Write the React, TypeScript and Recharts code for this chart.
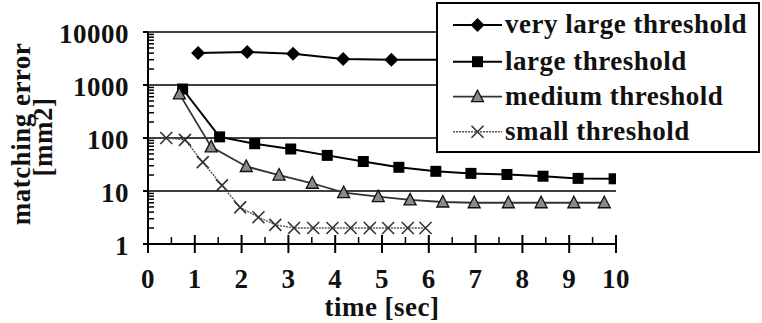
import { Legend, Line, LineChart, ReferenceLine, XAxis, YAxis } from "recharts";

const FONT = "'Liberation Serif', 'Times New Roman', serif";
const FS = 27;

// time [sec] / matching error [mm2]
const veryLargeT = [1.07, 2.12, 3.1, 4.17, 5.2, 6.3, 7.3, 8.35, 9.4];
const veryLargeV = [4000, 4200, 3900, 3100, 3000, 3000, 3000, 3000, 3000];
const largeT = [0.74, 1.53, 2.28, 3.05, 3.83, 4.6, 5.36, 6.15, 6.9, 7.67, 8.44, 9.19, 9.96];
const largeV = [840, 105, 78, 62, 47, 36, 28, 23.5, 21.5, 20.5, 19, 17.3, 17];
const mediumT = [0.67, 1.35, 2.1, 2.8, 3.51, 4.18, 4.92, 5.6, 6.3, 6.97, 7.7, 8.4, 9.1, 9.75];
const mediumV = [680, 68, 29, 20, 14, 9.3, 7.8, 6.8, 6.2, 6, 6, 6, 6, 6];
const smallT = [0.39, 0.79, 1.17, 1.58, 1.97, 2.36, 2.72, 3.12, 3.53, 3.94, 4.33, 4.74, 5.13, 5.55, 5.93];
const smallV = [100, 92, 35, 12.8, 4.9, 3.2, 2.3, 2.0, 2.0, 2.0, 2.0, 2.0, 2.0, 2.0, 2.0];

const xTicks = [0, 0.5, 1, 1.5, 2, 2.5, 3, 3.5, 4, 4.5, 5, 5.5, 6, 6.5, 7, 7.5, 8, 8.5, 9, 9.5, 10];
const yMajor = [1, 10, 100, 1000, 10000];
const yMinorSteps = [2, 3, 4, 5, 6, 7, 8, 9];
const yTicks = [...yMajor, ...[1, 10, 100, 1000].flatMap((d) => yMinorSteps.map((m) => m * d))].sort((a, b) => a - b);
const gridLines = [10, 100, 1000, 10000];

const toPoints = (t: number[], v: number[]) => t.map((x, i) => ({ t: x, v: v[i] }));

type Kind = "diamond" | "square" | "triangle" | "cross";

const series: { name: string; kind: Kind; data: { t: number; v: number }[]; stroke: string; width: number; dash?: string }[] = [
  { name: "very large threshold", kind: "diamond", data: toPoints(veryLargeT, veryLargeV), stroke: "#000", width: 2 },
  { name: "large threshold", kind: "square", data: toPoints(largeT, largeV), stroke: "#000", width: 2 },
  { name: "medium threshold", kind: "triangle", data: toPoints(mediumT, mediumV), stroke: "#333", width: 1.8 },
  { name: "small threshold", kind: "cross", data: toPoints(smallT, smallV), stroke: "#555", width: 1.4, dash: "2 1" },
];

const textProps = { fontFamily: FONT, fontSize: FS, fontWeight: 700, letterSpacing: 0.5, fill: "#111" };

function marker(kind: Kind, cx: number, cy: number, key?: string) {
  if (kind === "diamond")
    return <polygon key={key} points={`${cx},${cy - 7} ${cx + 7},${cy} ${cx},${cy + 7} ${cx - 7},${cy}`} fill="#000" />;
  if (kind === "square") return <rect key={key} x={cx - 5.5} y={cy - 5.5} width={11} height={11} fill="#000" />;
  if (kind === "triangle")
    return <polygon key={key} points={`${cx},${cy - 6.5} ${cx + 6},${cy + 5} ${cx - 6},${cy + 5}`} fill="#8a8a8a" stroke="#111" strokeWidth={1.3} />;
  return (
    <path key={key} d={`M${cx - 6},${cy - 6}L${cx + 6},${cy + 6}M${cx - 6},${cy + 6}L${cx + 6},${cy - 6}`} stroke="#333" strokeWidth={1.6} fill="none" />
  );
}

const YTick = (props: any) => {
  const { x, y, payload } = props;
  const v = payload.value;
  const ax = x + 20;
  if (!yMajor.includes(v)) return <line x1={ax} x2={ax + 6} y1={y} y2={y} stroke="#000" strokeWidth={1.5} />;
  return (
    <g>
      <line x1={ax - 5} x2={ax} y1={y} y2={y} stroke="#000" strokeWidth={2} />
      <text x={x + 1} y={y} dy="0.4em" textAnchor="end" {...textProps}>
        {v}
      </text>
    </g>
  );
};

const XTick = (props: any) => {
  const { x, y, payload } = props;
  const v = payload.value;
  const ay = y - 44;
  if (!Number.isInteger(v)) return <line x1={x} x2={x} y1={ay - 7} y2={ay} stroke="#000" strokeWidth={1.5} />;
  return (
    <g>
      <line x1={x} x2={x} y1={ay - 9} y2={ay + 9} stroke="#000" strokeWidth={2} />
      <text x={x} y={y} textAnchor="middle" {...textProps}>
        {v}
      </text>
    </g>
  );
};

const rowCenters = [21, 57.7, 92.7, 127.7];

const renderLegend = () => (
  <svg width={320} height={147} style={{ display: "block" }}>
    {series.map((s, i) => {
      const cy = rowCenters[i];
      return (
        <g key={s.name}>
          <line x1={15} x2={64} y1={cy} y2={cy} stroke={s.stroke} strokeWidth={s.width} strokeDasharray={s.dash} />
          {marker(s.kind, 39.5, cy)}
          <text x={67} y={cy + 8} {...textProps}>
            {s.name}
          </text>
        </g>
      );
    })}
  </svg>
);

export default function App() {
  return (
    <div style={{ position: "absolute", left: 0, top: 0, width: 762, height: 323, background: "#fff" }}>
      <LineChart width={762} height={323} margin={{ top: 32, right: 146, bottom: 0, left: 0 }}>
        <XAxis
          type="number"
          dataKey="t"
          domain={[0, 10]}
          allowDataOverflow
          ticks={xTicks}
          interval={0}
          height={79}
          tickSize={9}
          tickMargin={35}
          tickLine={false}
          axisLine={{ stroke: "#000", strokeWidth: 2 }}
          tick={<XTick />}
          label={{
            content: (p: any) => {
              const vb = p.viewBox ?? { x: 148, width: 468 };
              return (
                <text x={vb.x + vb.width / 2} y={316} textAnchor="middle" {...textProps}>
                  time [sec]
                </text>
              );
            },
          }}
        />
        <YAxis
          type="number"
          scale="log"
          domain={[1, 10000]}
          allowDataOverflow
          ticks={yTicks}
          interval={0}
          width={148}
          tickSize={5}
          tickMargin={15}
          tickLine={false}
          axisLine={{ stroke: "#000", strokeWidth: 2 }}
          tick={<YTick />}
          label={{
            content: () => (
              <g>
                <text transform="translate(30,134) rotate(-90)" textAnchor="middle" {...textProps}>
                  matching error
                </text>
                <text transform="translate(52,137) rotate(-90)" textAnchor="middle" {...textProps}>
                  [mm2]
                </text>
              </g>
            ),
          }}
        />
        {gridLines.map((g) => (
          <ReferenceLine key={g} y={g} stroke="#000" strokeWidth={1.6} />
        ))}
        {series.map((s) => (
          <Line
            key={s.name}
            name={s.name}
            data={s.data}
            dataKey="v"
            type="linear"
            stroke={s.stroke}
            strokeWidth={s.width}
            strokeDasharray={s.dash}
            dot={(p: any) => marker(s.kind, p.cx, p.cy, `${s.kind}-${p.index}`)}
            activeDot={false}
            isAnimationActive={false}
          />
        ))}
        <Legend
          layout="horizontal"
          verticalAlign="middle"
          align="center"
          content={renderLegend}
          wrapperStyle={{
            left: 436,
            top: 2,
            width: 324,
            height: 151,
            border: "2px solid #000",
            background: "#fff",
            boxSizing: "border-box",
          }}
        />
      </LineChart>
    </div>
  );
}
